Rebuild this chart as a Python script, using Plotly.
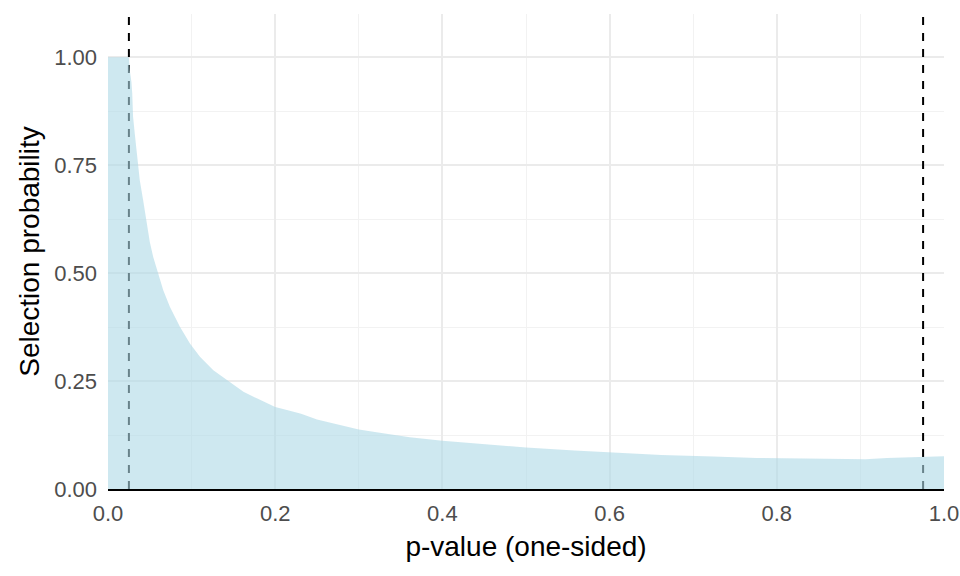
import plotly.graph_objects as go

# selection probability
p_values = [0.0, 0.025, 0.026, 0.028, 0.029, 0.030, 0.032, 0.034, 0.036, 0.038,
            0.042, 0.046, 0.050, 0.054, 0.060, 0.066, 0.074, 0.086, 0.098, 0.110,
            0.126, 0.142, 0.162, 0.178, 0.200, 0.214, 0.231, 0.250, 0.270, 0.300,
            0.329, 0.361, 0.400, 0.449, 0.500, 0.558, 0.600, 0.662, 0.724, 0.776,
            0.859, 0.906, 0.932, 0.983, 1.0]
sel_prob = [1.0, 1.0, 0.970, 0.943, 0.916, 0.862, 0.823, 0.785, 0.746, 0.715,
            0.669, 0.615, 0.572, 0.538, 0.499, 0.461, 0.422, 0.376, 0.337, 0.306,
            0.275, 0.252, 0.225, 0.210, 0.190, 0.183, 0.174, 0.161, 0.152, 0.138,
            0.129, 0.120, 0.112, 0.104, 0.096, 0.089, 0.085, 0.079, 0.075, 0.072,
            0.070, 0.069, 0.072, 0.076, 0.076]

cutoffs = [0.025, 0.975]
y_top = 1.1

fig = go.Figure()

# dashed cutoffs first so the fill sits over them
for c in cutoffs:
    fig.add_trace(go.Scatter(
        x=[c, c], y=[0, y_top],
        mode="lines",
        line=dict(color="black", width=2, dash="8px,8px"),
        showlegend=False,
        hoverinfo="skip",
    ))

fig.add_trace(go.Scatter(
    x=p_values, y=sel_prob,
    mode="lines",
    line=dict(width=0, color="rgba(173,216,230,0)"),
    fill="tozeroy",
    fillcolor="rgba(173,216,230,0.6)",
    showlegend=False,
    hovertemplate="p: %{x:.3f}<br>prob: %{y:.3f}<extra></extra>",
))

font = "Liberation Sans, Arial, sans-serif"
fig.update_layout(
    width=960, height=576,
    margin=dict(l=108, r=16, t=14, b=87, autoexpand=False),
    plot_bgcolor="white",
    paper_bgcolor="white",
    font=dict(family=font, size=22, color="#4D4D4D"),
    showlegend=False,
)
fig.update_xaxes(
    range=[0, 1], dtick=0.2, tickformat=".1f",
    showgrid=True, gridcolor="#EBEBEB", gridwidth=2,
    minor=dict(dtick=0.1, showgrid=True, gridcolor="#F2F2F2", gridwidth=1),
    zeroline=False, showline=True, linecolor="black", linewidth=1.5,
    ticks="", ticklabelstandoff=4, automargin=False,
    title=dict(text="p-value (one-sided)", font=dict(size=28, color="black"), standoff=11),
)
fig.update_yaxes(
    range=[0, y_top], tickvals=[0, 0.25, 0.5, 0.75, 1.0], tickformat=".2f",
    showgrid=True, gridcolor="#EBEBEB", gridwidth=2,
    minor=dict(tickvals=[0.125, 0.375, 0.625, 0.875], showgrid=True, gridcolor="#F2F2F2", gridwidth=1),
    zeroline=False, showline=False, ticks="", ticklabelstandoff=10, automargin=False,
    title=dict(text="Selection probability", font=dict(size=28, color="black"), standoff=6),
)

fig.write_html("out.html", config={"displayModeBar": False},
               post_script="document.body.style.margin='0';")
